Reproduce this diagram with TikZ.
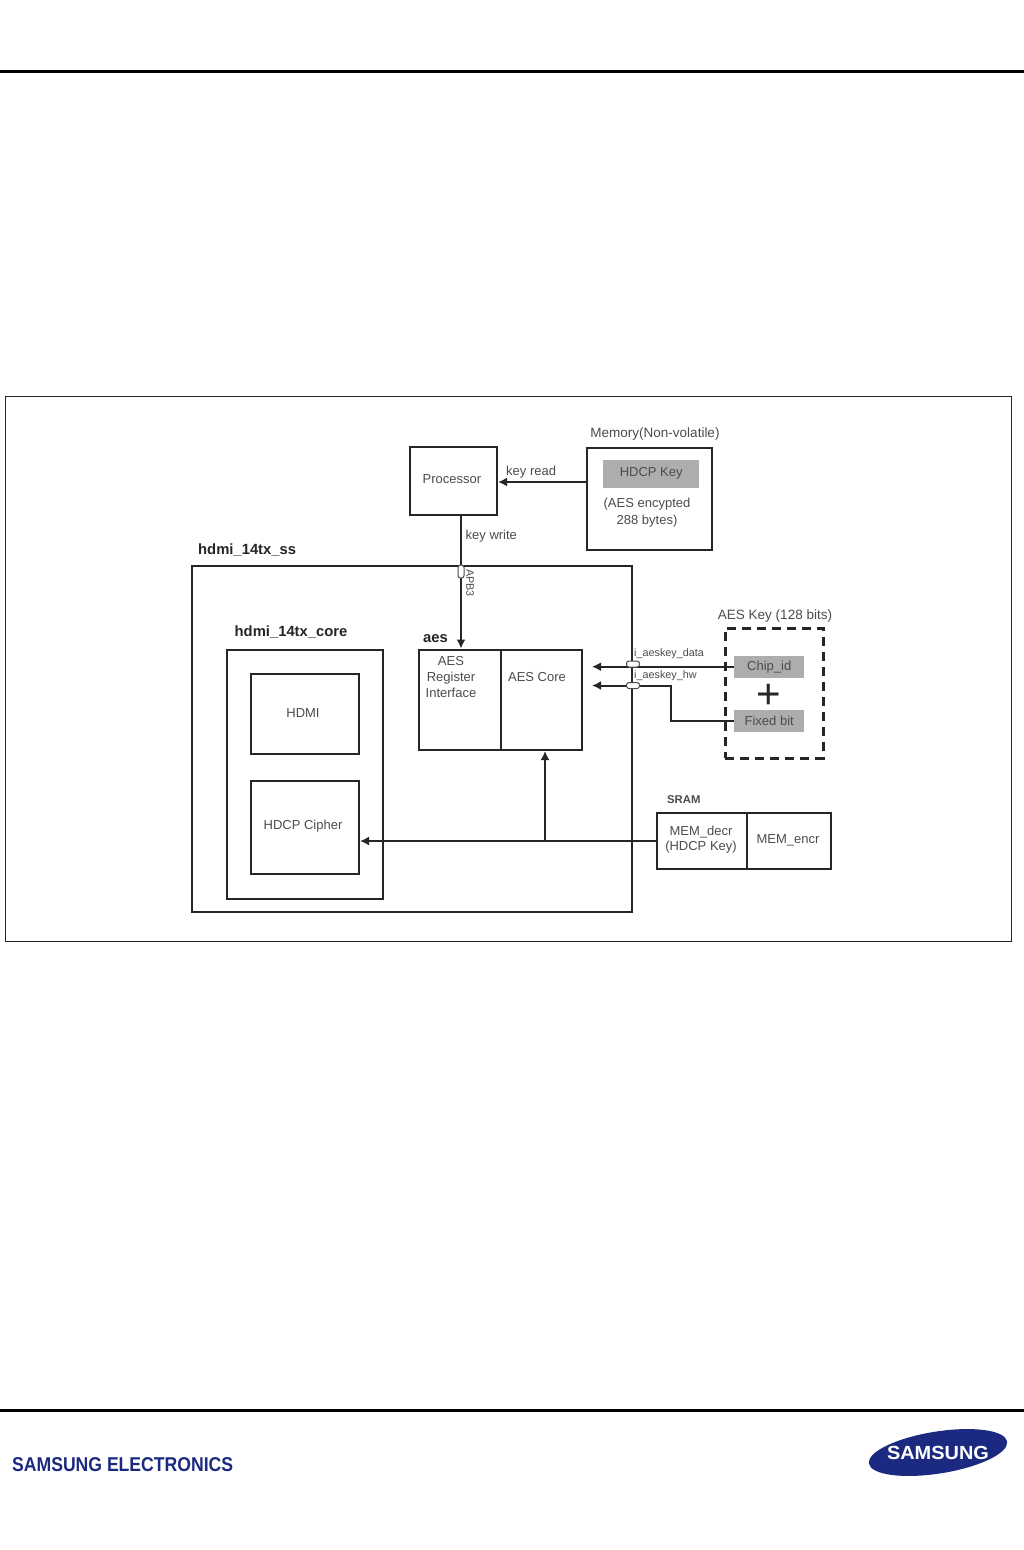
\documentclass[tikz,border=0pt]{standalone}
\usepackage{fontspec}
\setmainfont{Liberation Sans}
\usetikzlibrary{arrows.meta}
\definecolor{txt}{gray}{0.3}
\definecolor{keygray}{gray}{0.68}
\definecolor{samblue}{HTML}{1B2A80}
\tikzset{
 x=1pt,y=-1pt,
 box/.style={draw=black!85,line width=2pt,inner sep=0pt,anchor=north west},
 lab/.style={text=txt,font=\fontsize{13}{15}\selectfont,align=center,inner sep=0pt},
 small/.style={text=txt,font=\fontsize{10.8}{12}\selectfont,inner sep=0pt},
 bold/.style={text=black!85,font=\fontsize{14.8}{16}\selectfont\bfseries,inner sep=0pt},
 key/.style={fill=keygray,inner sep=0pt,text=txt,font=\fontsize{13}{15}\selectfont,anchor=north west},
 conn/.style={draw=black!85,line width=2pt},
 arr/.style={conn,-{Latex[length=9pt,width=9pt]}},
 rule/.style={draw=black,line width=3.6pt},
 port/.style={draw=black!70,fill=white,line width=1pt,rounded corners=2.5pt,minimum width=13pt,minimum height=6pt,inner sep=0pt},
}
\newcommand{\bx}[6][box]{\node[#1,minimum width=#4pt,minimum height=#5pt] (#6) at (#2,#3) {};}
\begin{document}
\begin{tikzpicture}
\useasboundingbox (0,0) rectangle (1024,1550);
\fill[white] (0,0) rectangle (1024,1550);
% page rules
\coordinate (ruleAl) at (0,71.5); \coordinate (ruleAr) at (1024,71.5);
\coordinate (ruleBl) at (0,1410.5); \coordinate (ruleBr) at (1024,1410.5);
\draw[rule] (ruleAl) -- (ruleAr);
\draw[rule] (ruleBl) -- (ruleBr);
% frame
\draw[draw=black!85,line width=1pt] (5.3,396.3) rectangle (1011,941);
% boxes
\bx{409}{446}{87}{68}{proc}
\bx{585.5}{446.5}{125}{102}{mem}
\bx{190.5}{564.5}{440}{346.5}{ss}
\bx{226}{648.5}{155.5}{249.5}{core}
\bx{249.5}{672.5}{108.5}{80.5}{hdmi}
\bx{249.5}{780}{108.5}{92.5}{hdcp}
\bx{417.5}{648.5}{82}{100.5}{reg}
\bx{499.5}{648.5}{81}{100.5}{aescore}
\bx{655.5}{811.5}{90}{56.5}{decr}
\bx{745.5}{811.5}{84.5}{56.5}{encr}
% dashed key box
\node[draw=black!85,line width=3pt,dash pattern=on 9pt off 6pt,minimum width=98pt,minimum height=130pt,inner sep=0pt,anchor=north west] (aeskey) at (723.5,626.5) {};
% key fills
\node[fill=keygray,inner sep=0pt,minimum width=96pt,minimum height=28pt,text=txt,font=\fontsize{13}{15}\selectfont,anchor=north west] (hdcpkey) at (603,459.5) {HDCP Key};
\node[key,minimum width=70pt,minimum height=22pt] (chip) at (734,655.5) {Chip\_id};
\node[key,minimum width=70pt,minimum height=22pt] (fixed) at (734,709.5) {Fixed bit};
% texts
\node[lab] (proct) at (452,479.5) {Processor};
\node[lab,font=\fontsize{13.5}{15}\selectfont] (memt) at (655,434) {Memory(Non-volatile)};
\node[lab,font=\fontsize{13}{17}\selectfont] (enc) at (647,513) {(AES encypted\\288 bytes)};
\node[lab,anchor=west] (kr) at (506,472) {key read};
\node[lab,anchor=west] (kw) at (465.5,536) {key write};
\node[small,rotate=-90] (apb) at (470,583) {APB3};
\node[bold,anchor=west] (sst) at (198,550.5) {hdmi\_14tx\_ss};
\node[bold,anchor=west] (coret) at (234.5,632) {hdmi\_14tx\_core};
\node[bold,anchor=west] (aest) at (423,638.5) {aes};
\node[lab] (hdmit) at (303,713.5) {HDMI};
\node[lab] (hdcpt) at (303,826.5) {HDCP Cipher};
\node[lab,font=\fontsize{13}{16}\selectfont] (regt) at (451,677.5) {AES\\Register\\Interface};
\node[lab] (coretx) at (537,677.5) {AES Core};
\node[lab,font=\fontsize{13}{15}\selectfont] (decrt) at (701,840) {MEM\_decr\\(HDCP Key)};
\node[lab] (encrt) at (788,840) {MEM\_encr};
\node[lab,font=\fontsize{11.3}{13}\selectfont\bfseries,anchor=west] (sramt) at (667,800) {SRAM};
\node[lab,font=\fontsize{13.5}{15}\selectfont] (aeskt) at (775,616) {AES Key (128 bits)};
\node[small,anchor=west] (dat) at (634,654) {i\_aeskey\_data};
\node[small,anchor=west] (hwt) at (634,675.5) {i\_aeskey\_hw};
\node[text=black!85,font=\fontsize{42}{42}\selectfont,inner sep=0pt] (plus) at (769,696) {+};
% connectors
\coordinate (pl) at (592,666); \coordinate (ql) at (592,685.5);
\coordinate (rd) at (671,685.5);
\coordinate (jn) at (545,841);
\draw[arr] (mem.west |- 0,482) -- (proc.east |- 0,482);
\draw[arr] (proc.south -| 461,0) -- (reg.north -| 461,0);
\draw[arr] (chip.west) -- (chip.west -| pl);
\draw[arr] (fixed.west) -| (rd) -- (ql);
\draw[arr] (decr.west |- jn) -- (hdcp.east |- jn);
\draw[arr] (jn) -- (aescore.south -| jn);
\node[port] (p1) at (633,664) {};
\node[port] (p2) at (633,685.5) {};
\node[draw=black!70,fill=white,line width=1pt,rounded corners=2.5pt,minimum width=6pt,minimum height=13pt,inner sep=0pt] (p3) at (461,571.5) {};
% footer
\node[text=samblue,font=\fontsize{20}{22}\selectfont\bfseries,inner sep=0pt,anchor=west,xscale=0.88] (sel) at (12,1464.5) {SAMSUNG ELECTRONICS};
\fill[samblue,rotate around={9:(938,1452.5)}] (938,1452.5) ellipse (70 and 21);
\node[text=white,font=\fontsize{19}{21}\selectfont\bfseries,inner sep=0pt,xscale=1.05] (sam) at (938,1453) {SAMSUNG};
\end{tikzpicture}
\end{document}
